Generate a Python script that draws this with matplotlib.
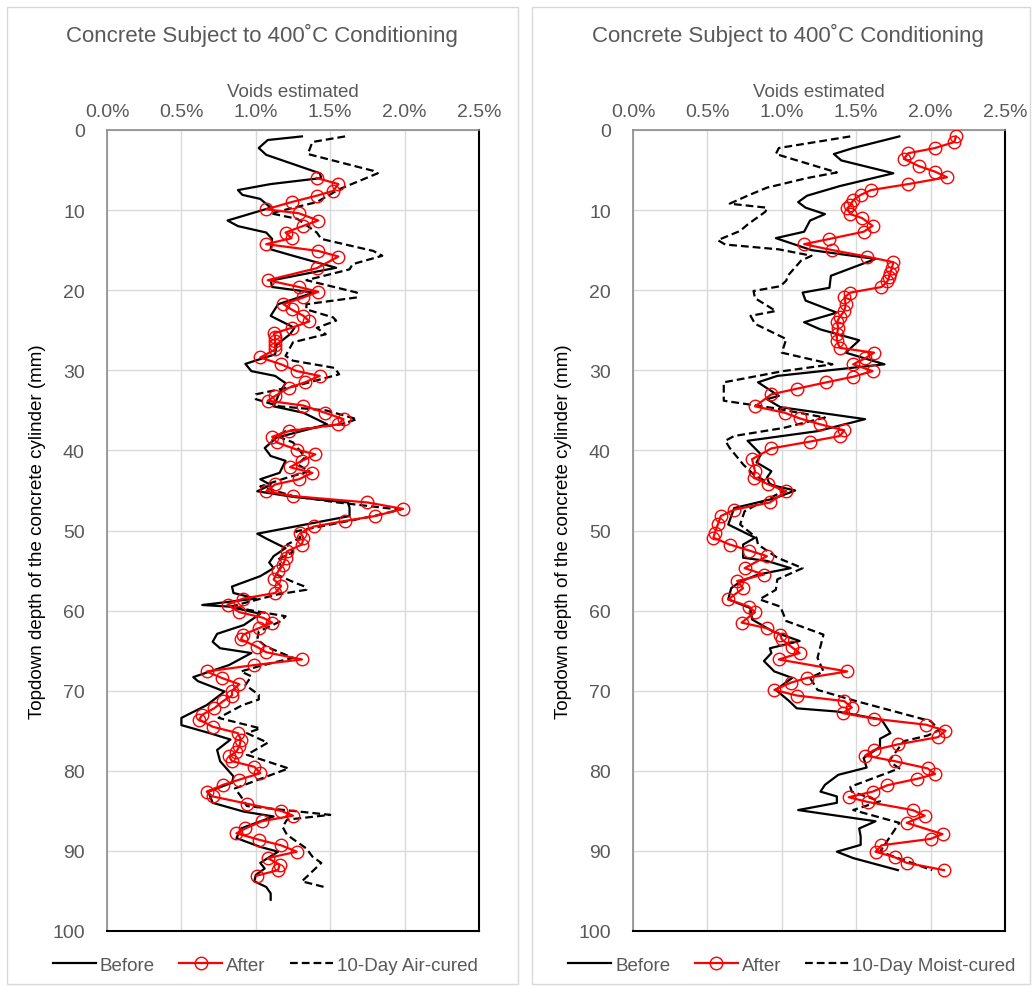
import matplotlib
matplotlib.use("Agg")
import matplotlib.pyplot as plt
from matplotlib.patches import Rectangle
from matplotlib.ticker import PercentFormatter

plt.rcParams['font.family'] = ['Liberation Sans', 'DejaVu Sans']

# ---- left panel: air-cured ----
before_1_depth = [0.8, 1.25, 2.25, 3.1, 5.4, 6.0, 6.75, 7.5, 8.1, 8.6, 9.7, 11.3, 12.0, 12.8, 13.6, 14.9, 15.7, 17.2,
                  18.8, 19.6, 20.3, 21.75, 23.2, 23.4, 24.7, 25.5, 26.8, 28.0, 29.2, 30.1, 30.7, 31.6, 32.8, 34.5, 35.3,
                  36.75, 38.4, 39.7, 40.7, 41.3, 42.8, 43.6, 44.3, 45.1, 45.8, 46.5, 47.2, 48.2, 50.4, 51.1, 52.2, 53.2,
                  54.0, 54.7, 55.7, 57.0, 57.8, 58.5, 59.3, 59.5, 60.4, 61.8, 62.9, 63.9, 64.7, 65.3, 66.8, 68.3, 68.8,
                  70.1, 71.8, 73.4, 74.3, 75.3, 76.1, 77.4, 78.8, 80.7, 81.5, 82.6, 84.0, 85.1, 85.7, 87.2, 88.4, 89.5,
                  90.1, 90.9, 91.5, 92.2, 93.0, 93.8, 94.5, 95.3, 96.1]
before_1_voids = [1.31, 1.08, 1.02, 1.07, 1.43, 1.44, 1.10, 0.88, 0.91, 1.03, 1.10, 0.81, 0.88, 1.07, 1.11, 1.10, 1.25,
                  1.54, 1.10, 1.11, 1.39, 1.15, 1.10, 1.12, 1.26, 1.23, 1.14, 1.13, 0.93, 0.97, 1.13, 1.20, 1.16, 1.12,
                  1.32, 1.48, 1.14, 1.06, 1.10, 1.20, 1.16, 1.03, 1.10, 1.01, 1.25, 1.62, 1.63, 1.63, 1.01, 1.08, 1.20,
                  1.12, 1.09, 1.12, 1.03, 0.84, 0.85, 1.00, 0.64, 0.82, 1.03, 0.92, 0.74, 0.71, 0.76, 0.97, 0.82, 0.58,
                  0.61, 0.79, 0.67, 0.50, 0.50, 0.69, 0.83, 0.74, 0.76, 0.85, 0.84, 0.68, 0.71, 0.92, 1.12, 0.90, 0.87,
                  1.03, 1.15, 1.08, 1.03, 1.06, 1.00, 0.99, 1.07, 1.10, 1.10]

after_1_depth = [6.0, 6.75, 7.6, 8.2, 9.0, 9.9, 10.4, 11.3, 11.96, 12.8, 13.5, 14.25, 15.1, 15.8, 17.25, 18.75, 19.6,
                 20.2, 20.9, 21.75, 22.4, 23.2, 23.9, 24.7, 25.4, 25.9, 26.4, 26.9, 27.4, 28.4, 29.25, 30.1, 30.7, 31.5,
                 32.2, 33.2, 33.8, 34.4, 35.3, 36.1, 36.75, 37.6, 38.3, 39.0, 39.9, 40.5, 41.3, 42.1, 42.8, 43.6, 44.25,
                 45.1, 45.7, 46.5, 47.3, 48.2, 48.8, 49.5, 50.3, 50.9, 51.75, 52.6, 53.4, 54.25, 55.1, 56.1, 56.95,
                 57.8, 58.5, 59.25, 60.2, 60.9, 61.5, 62.2, 63.0, 63.6, 64.5, 65.2, 66.1, 66.8, 67.6, 68.4, 69.2, 70.0,
                 70.6, 71.3, 72.2, 73.0, 73.6, 74.5, 75.3, 76.1, 76.9, 77.6, 78.2, 78.8, 79.5, 80.3, 81.1, 81.75, 82.6,
                 83.2, 84.1, 85.0, 85.6, 86.3, 87.2, 87.8, 88.6, 89.3, 90.1, 90.9, 91.7, 92.4, 93.1]
after_1_voids = [1.41, 1.555, 1.52, 1.41, 1.24, 1.07, 1.29, 1.42, 1.32, 1.20, 1.24, 1.07, 1.42, 1.555, 1.41, 1.08, 1.29,
                 1.42, 1.32, 1.185, 1.24, 1.32, 1.36, 1.24, 1.12, 1.13, 1.13, 1.13, 1.13, 1.03, 1.17, 1.275, 1.43, 1.33,
                 1.22, 1.13, 1.08, 1.32, 1.465, 1.59, 1.555, 1.22, 1.11, 1.14, 1.275, 1.40, 1.31, 1.23, 1.38, 1.29, 1.13,
                 1.07, 1.25, 1.75, 1.99, 1.80, 1.60, 1.39, 1.30, 1.32, 1.31, 1.21, 1.20, 1.185, 1.15, 1.12, 1.17, 1.13,
                 0.915, 0.81, 0.89, 1.05, 1.11, 1.02, 0.915, 0.90, 1.005, 1.07, 1.31, 0.99, 0.67, 0.77, 0.89, 0.84,
                 0.84, 0.78, 0.72, 0.64, 0.62, 0.71, 0.88, 0.90, 0.89, 0.87, 0.82, 0.84, 0.99, 1.03, 0.89, 0.78, 0.67,
                 0.71, 0.94, 1.17, 1.25, 1.04, 0.93, 0.87, 1.02, 1.17, 1.275, 1.08, 1.16, 1.15, 1.005]

air_depth = [0.8, 1.5, 3.0, 5.1, 5.4, 7.4, 9.0, 10.4, 11.1, 12.8, 13.6, 15.1, 15.7, 16.75, 17.4, 18.75, 20.3, 20.9,
             21.75, 22.4, 23.4, 23.8, 24.7, 25.5, 26.5, 28.2, 28.8, 29.7, 30.5, 31.9, 33.0, 33.6, 34.5, 35.0, 36.1,
             36.75, 37.6, 38.2, 39.0, 40.1, 40.9, 41.75, 42.6, 43.4, 44.5, 45.7, 46.5, 47.4, 48.2, 50.1, 50.9, 51.75,
             52.7, 53.6, 54.5, 55.5, 56.5, 57.0, 57.4, 58.0, 59.5, 60.3, 60.7, 61.3, 62.6, 63.6, 64.5, 65.9, 66.9,
             67.6, 68.2, 69.3, 70.5, 71.1, 71.8, 73.4, 74.7, 75.3, 76.5, 78.0, 79.7, 82.2, 83.2, 84.4, 85.5, 86.1,
             87.0, 88.0, 89.7, 90.7, 91.5, 93.8, 94.6]
air_voids = [1.60, 1.38, 1.35, 1.79, 1.82, 1.56, 1.41, 1.10, 1.28, 1.41, 1.44, 1.79, 1.85, 1.65, 1.63, 1.34, 1.68, 1.68,
             1.34, 1.34, 1.52, 1.54, 1.41, 1.47, 1.25, 1.20, 1.25, 1.53, 1.56, 1.28, 1.00, 1.00, 1.16, 1.47, 1.68, 1.57,
             1.20, 1.14, 1.25, 1.30, 1.33, 1.28, 1.36, 1.21, 1.03, 1.25, 1.55, 1.97, 1.79, 1.27, 1.30, 1.21, 1.25, 1.15,
             1.17, 1.14, 1.26, 1.33, 1.34, 1.14, 0.83, 1.07, 1.20, 1.17, 1.02, 1.01, 1.07, 1.25, 1.03, 0.90, 0.97, 0.93,
             1.02, 1.02, 0.91, 0.75, 1.03, 0.94, 1.08, 0.94, 1.22, 0.86, 0.90, 0.94, 1.50, 1.21, 1.18, 1.21, 1.34, 1.38,
             1.44, 1.31, 1.48]

# ---- right panel: moist-cured ----
before_2_depth = [0.8, 2.25, 3.0, 3.8, 5.4, 7.0, 8.2, 9.0, 9.7, 10.5, 11.3, 12.7, 13.5, 15.0, 16.1, 18.2, 19.7, 20.3,
                  21.3, 22.8, 24.0, 24.9, 26.25, 27.8, 29.25, 30.7, 31.5, 33.2, 33.6, 34.6, 36.1, 37.6, 38.8, 40.5,
                  41.5, 42.6, 43.4, 44.3, 45.0, 46.0, 47.2, 49.25, 50.9, 51.75, 53.4, 53.8, 54.7, 55.5, 56.4, 57.2, 58.6,
                  59.7, 61.1, 62.6, 63.8, 64.7, 65.3, 66.3, 67.6, 68.4, 69.9, 71.3, 72.2, 72.6, 73.6, 75.3, 76.0, 77.0,
                  78.4, 79.6, 80.5, 81.75, 82.6, 83.2, 84.0, 84.9, 86.3, 87.2, 88.2, 89.25, 90.1, 90.9, 92.4]
before_2_voids = [1.79, 1.48, 1.35, 1.40, 1.75, 1.39, 1.17, 1.11, 1.16, 1.29, 1.19, 1.15, 0.96, 1.20, 1.63, 1.33, 1.32,
                  1.14, 1.16, 1.37, 1.15, 1.26, 1.52, 1.43, 1.69, 0.97, 0.84, 0.98, 0.90, 0.99, 1.56, 1.24, 0.77, 0.86,
                  0.83, 0.93, 0.90, 0.92, 1.09, 0.95, 0.68, 0.64, 0.82, 0.74, 0.74, 0.90, 1.06, 0.84, 0.72, 0.66, 0.64,
                  0.79, 0.80, 0.94, 1.12, 0.92, 0.93, 0.88, 0.95, 1.07, 0.96, 1.05, 1.10, 1.37, 1.67, 1.73, 1.66, 1.66,
                  1.55, 1.57, 1.38, 1.29, 1.26, 1.37, 1.37, 1.11, 1.63, 1.52, 1.53, 1.53, 1.37, 1.48, 1.78]

after_2_depth = [0.8, 1.5, 2.25, 2.9, 3.6, 4.5, 5.2, 5.9, 6.75, 7.5, 8.1, 8.75, 9.4, 9.75, 10.5, 11.0, 11.96, 12.7,
                 13.6, 14.25, 15.0, 15.8, 16.5, 17.2, 17.8, 18.4, 18.9, 19.6, 20.3, 20.9, 21.75, 22.6, 23.3, 24.0, 24.7,
                 25.5, 26.3, 27.2, 27.8, 28.5, 29.25, 30.1, 30.8, 31.5, 32.3, 33.0, 34.5, 35.3, 36.0, 36.75, 37.5,
                 38.2, 38.9, 39.75, 41.1, 42.6, 43.4, 44.25, 45.1, 46.5, 47.4, 48.2, 49.25, 50.3, 50.9, 51.75, 52.5,
                 53.2, 54.7, 55.5, 56.3, 57.2, 58.6, 59.5, 60.2, 61.5, 62.2, 63.0, 63.6, 64.6, 65.3, 66.1, 67.6, 68.4,
                 69.0, 69.9, 70.6, 71.3, 72.1, 72.8, 73.5, 74.25, 75.0, 75.8, 76.7, 77.4, 78.1, 78.8, 79.7, 80.4,
                 81.0, 81.8, 82.6, 83.3, 83.9, 84.9, 85.6, 86.5, 87.9, 88.5, 89.3, 90.1, 90.8, 91.5, 92.4]
after_2_voids = [2.17, 2.16, 2.03, 1.85, 1.82, 1.92, 2.03, 2.11, 1.85, 1.60, 1.53, 1.48, 1.46, 1.44, 1.46, 1.54, 1.61,
                 1.55, 1.32, 1.15, 1.34, 1.57, 1.75, 1.74, 1.73, 1.72, 1.71, 1.67, 1.46, 1.42, 1.43, 1.42, 1.39, 1.37,
                 1.38, 1.37, 1.37, 1.39, 1.62, 1.56, 1.48, 1.61, 1.48, 1.30, 1.10, 0.93, 0.82, 1.02, 1.12, 1.26, 1.42,
                 1.39, 1.19, 0.93, 0.80, 0.82, 0.81, 0.91, 1.03, 0.92, 0.68, 0.59, 0.57, 0.55, 0.54, 0.65, 0.78, 0.90,
                 0.75, 0.88, 0.70, 0.74, 0.64, 0.78, 0.82, 0.73, 0.90, 0.99, 1.00, 1.07, 1.12, 0.98, 1.44, 1.17, 1.06,
                 0.95, 1.10, 1.42, 1.47, 1.41, 1.62, 1.97, 2.10, 2.05, 1.78, 1.62, 1.56, 1.76, 1.98, 2.03, 1.91, 1.71,
                 1.61, 1.45, 1.58, 1.88, 1.96, 1.84, 2.08, 2.00, 1.67, 1.63, 1.76, 1.84, 2.09]

moist_depth = [0.8, 2.25, 3.0, 5.3, 6.0, 7.2, 8.2, 9.2, 9.7, 10.2, 11.8, 12.6, 13.75, 14.3, 14.9, 15.7, 16.3, 18.2,
               18.8, 19.5, 20.1, 21.0, 22.6, 23.2, 24.2, 26.1, 27.8, 29.25, 30.1, 31.5, 33.8, 34.7, 35.9, 37.2, 38.2,
               38.8, 39.7, 41.75, 43.0, 45.1, 46.5, 47.6, 49.25, 50.9, 51.75, 53.4, 54.7, 56.1, 57.4, 58.6, 59.5,
               61.3, 63.0, 65.9, 67.6, 68.4, 69.9, 71.3, 73.8, 74.9, 75.6, 76.3, 78.8, 79.7, 82.0, 82.6, 83.8, 84.9,
               86.5, 90.1, 92.4]
moist_voids = [1.46, 0.98, 0.96, 1.37, 1.17, 0.90, 0.77, 0.65, 0.90, 0.89, 0.77, 0.72, 0.57, 0.62, 0.98, 1.20, 1.13,
               1.04, 1.03, 0.99, 0.81, 0.82, 0.96, 0.79, 0.82, 1.03, 1.00, 1.34, 1.01, 0.61, 0.61, 0.94, 1.29, 1.01,
               0.68, 0.62, 0.65, 0.74, 0.81, 1.01, 0.86, 0.75, 0.72, 0.83, 0.84, 0.97, 1.14, 0.97, 0.96, 0.85, 0.99,
               1.03, 1.28, 1.24, 1.28, 1.19, 1.24, 1.50, 2.00, 2.06, 1.98, 1.82, 1.72, 1.79, 1.46, 1.47, 1.66, 1.48,
               1.79, 1.66, 2.01]

title = 'Concrete Subject to 400\u02daC Conditioning'
gray = '#595959'

fig = plt.figure(figsize=(10.33, 9.87), dpi=100)

# chart-area frames
fig.patches.append(Rectangle((7 / 1033, 2 / 987), 511 / 1033, 977 / 987, transform=fig.transFigure,
                             fill=False, edgecolor='#d9d9d9', lw=1))
fig.patches.append(Rectangle((532 / 1033, 2 / 987), 498 / 1033, 977 / 987, transform=fig.transFigure,
                             fill=False, edgecolor='#d9d9d9', lw=1))

panels = [
    (107, 262, 265, before_1_depth, before_1_voids, after_1_depth, after_1_voids, air_depth, air_voids,
     '10-Day Air-cured'),
    (633, 788, 792, before_2_depth, before_2_voids, after_2_depth, after_2_voids, moist_depth, moist_voids,
     '10-Day Moist-cured'),
]

for left, title_x, leg_x, bd, bv, ad, av, cd, cv, cure_label in panels:
    ax = fig.add_axes([left / 1033, 1 - 932 / 987, 372 / 1033, 801 / 987])
    b, = ax.plot([v / 100 for v in bv], bd, color='black', lw=1.6, zorder=3)
    a, = ax.plot([v / 100 for v in av], ad, color='red', lw=1.6, marker='o', ms=9, mfc='none',
                 mec='red', mew=1.0, zorder=5)
    c, = ax.plot([v / 100 for v in cv], cd, color='black', lw=1.6, ls=(0, (3.5, 1.8)), zorder=4)

    ax.set_xlim(0, 0.025)
    ax.set_ylim(100, 0)
    ax.set_xticks([0, 0.005, 0.01, 0.015, 0.02, 0.025])
    ax.set_yticks(range(0, 101, 10))
    ax.xaxis.set_major_formatter(PercentFormatter(1.0, decimals=1))
    ax.xaxis.tick_top()
    ax.xaxis.set_label_position('top')
    ax.tick_params(length=0, labelsize=14, colors=gray)
    ax.tick_params(axis='x', pad=7)
    ax.tick_params(axis='y', pad=16)
    ax.grid(True, color='#d9d9d9', lw=1)
    ax.set_axisbelow(True)
    for s in ['left', 'top']:
        ax.spines[s].set_color('#8c8c8c')
        ax.spines[s].set_linewidth(1.2)
    for s in ['right', 'bottom']:
        ax.spines[s].set_color('black')
        ax.spines[s].set_linewidth(1.5)

    ax.set_xlabel('Voids estimated', fontsize=13.5, color=gray, labelpad=5)
    ax.set_ylabel('Topdown depth of the concrete cylinder (mm)', fontsize=13.5, color='black')
    ax.yaxis.set_label_coords(-0.164, 0.5)

    fig.text(title_x / 1033, 1 - 35 / 987, title, fontsize=16, color=gray, ha='center', va='center')

    ax.legend([b, a, c], ['Before', 'After', cure_label], loc='center', ncol=3, frameon=False,
              bbox_to_anchor=(leg_x / 1033, 1 - 966 / 987), bbox_transform=fig.transFigure,
              fontsize=13.5, labelcolor=gray, handlelength=2.3, handletextpad=0.2, columnspacing=1.3)

fig.savefig('out.png', dpi=100)
